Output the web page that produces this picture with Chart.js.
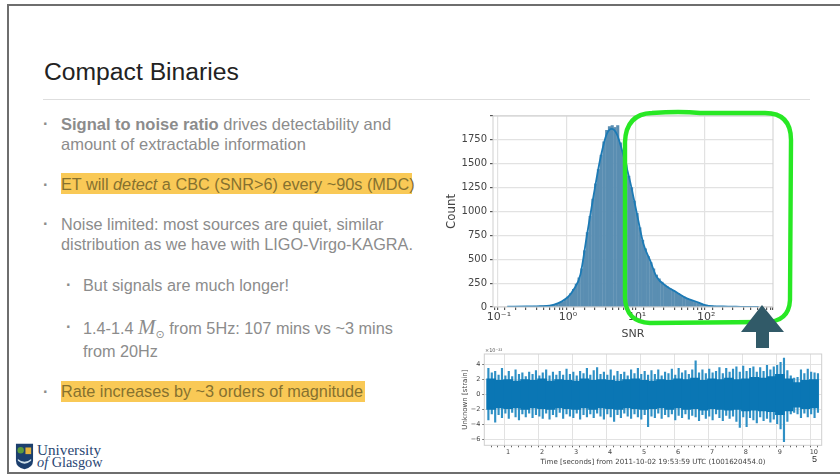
<!DOCTYPE html>
<html>
<head>
<meta charset="utf-8">
<script src="https://cdn.jsdelivr.net/npm/chart.js@4"></script>
<style>
html, body { margin: 0; padding: 0; background: #fff; }
#slide { position: relative; width: 840px; height: 474px; overflow: hidden; font-family: "Liberation Sans", sans-serif; color: #8c8c8c; }
#slide div { position: absolute; white-space: nowrap; }
.line { font-size: 16.25px; line-height: 20px; }
.dot { font-weight: bold; }
.hl { background: #f9c956; }
.dark { color: #86712f; }
canvas { position: absolute; filter: blur(0.5px); }
</style>
</head>
<body>
<div id="slide">
  <div style="left:8px;top:4px;width:832px;height:2px;background:#6e6e6e"></div>
  <div style="left:7px;top:4px;width:2px;height:470px;background:#6e6e6e"></div>
  <div style="left:7px;top:472px;width:833px;height:2px;background:#6e6e6e"></div>

  <div style="left:44px;top:57px;font-size:24.7px;line-height:30px;color:#222">Compact Binaries</div>
  <div style="left:43px;top:99px;width:767px;height:1px;background:#dedede"></div>

  <div class="line dot" style="left:43px;top:113px">·</div>
  <div class="line" style="left:61px;top:114px;font-size:16.5px"><b>Signal to noise ratio</b> drives detectability and</div>
  <div class="line" style="left:61px;top:134px;font-size:16.5px">amount of extractable information</div>

  <div class="hl" style="left:61px;top:173px;width:351px;height:21px"></div>
  <div class="line dot" style="left:43px;top:174px">·</div>
  <div class="line dark" style="left:61px;top:174px">ET will <i>detect</i> a CBC (SNR&gt;6) every ~90s (MDC)</div>

  <div class="line dot" style="left:43px;top:213px">·</div>
  <div class="line" style="left:61px;top:214px">Noise limited: most sources are quiet, similar</div>
  <div class="line" style="left:61px;top:234px">distribution as we have with LIGO-Virgo-KAGRA.</div>

  <div class="line dot" style="left:66px;top:274px">·</div>
  <div class="line" style="left:83px;top:275px">But signals are much longer!</div>

  <div class="line dot" style="left:66px;top:316px">·</div>
  <div class="line" style="left:83px;top:317px">1.4-1.4 <span style="font-family:'Liberation Serif';font-style:italic;font-size:21px">M</span><sub style="font-family:'DejaVu Sans';font-size:11px;line-height:0">⊙</sub> from 5Hz: 107 mins vs ~3 mins</div>
  <div class="line" style="left:83px;top:341px">from 20Hz</div>

  <div class="hl" style="left:61px;top:381px;width:304px;height:21px"></div>
  <div class="line dot" style="left:43px;top:381px">·</div>
  <div class="line dark" style="left:61px;top:381px">Rate increases by ~3 orders of magnitude</div>

  <svg style="position:absolute;left:15px;top:442px" width="19" height="29" viewBox="0 0 20 29">
    <path d="M1 1 H19 V19 Q19 26 10 28 Q1 26 1 19 Z" fill="#1c3f6e"/>
    <circle cx="6" cy="8" r="3.4" fill="#5b9a3c"/>
    <rect x="11" y="5" width="6" height="7" fill="#e3b23c"/>
    <path d="M3 17 Q10 23 17 17 V19 Q10 25 3 19 Z" fill="#cfe0ea"/>
  </svg>
  <div style="left:37px;top:442px;font-family:'Liberation Serif',serif;font-size:15.2px;line-height:15px;color:#2a4673">University</div>
  <div style="left:37px;top:454px;font-family:'Liberation Serif',serif;font-size:14.3px;line-height:16px;color:#2a4673"><i>of</i> Glasgow</div>

  <canvas id="snrChart" width="345" height="236" style="left:440px;top:105px"></canvas>
  <canvas id="strainChart" width="400" height="118" style="left:440px;top:348px"></canvas>

  <div style="left:485px;top:347px;font-family:'DejaVu Sans';font-size:5px;line-height:7px;color:#555">×10⁻²²</div>
  <div style="left:812px;top:454px;font-size:9px;line-height:10px;color:#333">5</div>

  <svg style="position:absolute;left:0;top:0;pointer-events:none" width="840" height="474">
    <path d="M652 113 Q680 111 700 113 L765 113 Q791 113 791 140 L790 300 Q789 322 765 322 L650 323 Q626 322 625 298 L625 142 Q626 114 652 113 Z" fill="none" stroke="#28e824" stroke-width="4.4"/>
    <path d="M762 305 L784 332 L769 332 L769 348 L756 348 L756 332 L741 332 Z" fill="#315a68"/>
  </svg>
</div>

<script>
// SNR histogram, log10 of bin position and counts
const binExps = [-0.56,-0.52,-0.48,-0.44,-0.40,-0.36,-0.32,-0.28,-0.24,-0.20,-0.16,-0.12,-0.08,-0.04,0.00,0.04,0.08,0.12,0.16,0.20,0.24,0.28,0.32,0.36,0.40,0.44,0.48,0.52,0.56,0.60,0.64,0.68,0.72,0.76,0.80,0.84,0.88,0.92,0.96,1.00,1.04,1.08,1.12,1.16,1.20,1.24,1.28,1.32,1.36,1.40,1.44,1.48,1.52,1.56,1.60,1.64,1.68,1.72,1.76,1.80,1.84,1.88,1.92,1.96,2.00,2.04,2.08,2.12,2.16,2.20,2.24,2.28,2.32,2.36,2.40,2.44];
const binCounts = [6,7,8,7,9,10,12,14,18,24,30,40,55,78,105,140,185,240,305,400,590,780,950,1130,1290,1440,1590,1730,1850,1890,1900,1880,1900,1720,1610,1490,1370,1250,1110,980,830,700,610,530,465,400,335,295,260,230,210,190,170,155,140,120,105,90,80,68,58,48,38,28,20,15,12,9,7,6,5,4,4,3,3,2];

// KDE curve over the histogram
const kdeExps = [-0.88,-0.6,-0.4,-0.2,0.0,0.08,0.18,0.27,0.37,0.47,0.56,0.635,0.707,0.80,0.90,0.995,1.09,1.19,1.28,1.43,1.57,1.72,1.86,2.0,2.24,2.5,2.76];
const kdeCounts = [3,5,8,25,105,180,340,735,1165,1560,1810,1865,1810,1595,1310,985,665,485,320,215,155,90,55,18,5,2,1];

const snrTicks = [0,250,500,750,1000,1250,1500,1750];

// strain time series: spike tops and bottoms per slice of time
const strainTimes = [0.42,0.52,0.62,0.72,0.82,0.92,1.02,1.12,1.22,1.32,1.42,1.52,1.62,1.72,1.82,1.92,2.02,2.12,2.22,2.32,2.42,2.52,2.62,2.72,2.82,2.92,3.02,3.12,3.22,3.32,3.42,3.52,3.62,3.72,3.82,3.92,4.02,4.12,4.22,4.32,4.42,4.52,4.62,4.72,4.82,4.92,5.02,5.12,5.22,5.32,5.42,5.52,5.62,5.72,5.82,5.92,6.02,6.12,6.22,6.32,6.42,6.52,6.62,6.72,6.82,6.92,7.02,7.12,7.22,7.32,7.42,7.52,7.62,7.72,7.82,7.92,8.02,8.12,8.22,8.32,8.42,8.52,8.62,8.72,8.82,8.92,9.02,9.12,9.22,9.32,9.42,9.52,9.62,9.72,9.82,9.92,10.02,10.12];
const strainHigh = [3.5,2.9,3.1,2.6,3.5,2.5,3.1,2.4,3.3,2.7,2.9,2.4,3.0,2.7,3.2,2.5,2.9,3.3,2.5,3.0,2.6,3.1,2.6,3.4,2.7,3.0,2.5,3.1,2.8,3.5,2.6,3.2,3.6,2.7,3.0,2.6,3.3,2.5,3.1,2.7,3.0,2.5,3.3,2.8,3.5,2.7,3.1,2.6,3.2,2.7,3.3,2.5,3.0,2.8,3.4,2.6,3.5,2.9,3.2,2.7,3.3,4.5,2.9,3.3,2.8,3.4,2.9,3.1,3.6,2.8,3.5,3.0,3.4,3.7,3.0,3.8,3.1,3.5,3.7,3.0,3.6,3.1,3.9,3.3,3.7,3.9,4.3,4.9,3.2,2.5,2.2,2.3,3.3,2.8,3.4,3.0,2.9,2.8];
const strainLow = [-3.4,-2.6,-3.7,-2.7,-3.1,-2.5,-3.2,-2.4,-3.0,-3.4,-2.6,-3.0,-2.5,-3.1,-2.7,-2.9,-3.2,-2.5,-3.3,-2.7,-3.0,-2.4,-3.2,-2.6,-2.9,-3.1,-2.5,-3.3,-2.7,-3.0,-2.6,-3.1,-2.5,-2.9,-3.3,-2.6,-3.0,-3.6,-2.7,-3.1,-2.5,-2.9,-3.2,-2.6,-3.0,-3.3,-2.7,-4.3,-2.9,-3.1,-2.5,-3.2,-2.7,-3.0,-2.6,-3.4,-2.8,-3.1,-2.6,-3.3,-2.8,-3.0,-3.5,-2.7,-3.2,-2.9,-3.4,-2.6,-3.1,-3.5,-2.8,-3.2,-2.9,-3.6,-4.4,-3.0,-4.3,-3.1,-3.4,-3.8,-3.0,-3.5,-3.2,-3.7,-3.3,-3.9,-4.6,-6.3,-3.6,-2.6,-2.4,-2.6,-3.1,-2.5,-3.0,-2.6,-3.1,-2.4];

// solid middle of the band
const coreTimes = [0.5,0.75,1.0,1.25,1.5,1.75,2.0,2.25,2.5,2.75,3.0,3.25,3.5,3.75,4.0,4.25,4.5,4.75,5.0,5.25,5.5,5.75,6.0,6.25,6.5,6.75,7.0,7.25,7.5,7.75,8.0,8.25,8.5,8.75,9.0,9.25,9.5,9.75,10.0];
const coreHigh = [2.1,1.9,2.0,1.8,2.0,1.9,2.1,1.8,2.0,1.9,1.8,2.1,1.9,2.0,1.9,1.8,2.0,2.1,1.9,1.8,2.0,1.9,2.1,2.0,2.2,1.9,2.1,2.0,2.2,2.0,2.1,2.3,2.2,2.4,2.7,2.1,1.6,1.9,2.0];
const coreLow = [-2.0,-1.8,-1.9,-1.8,-2.0,-1.8,-1.9,-2.0,-1.8,-1.9,-2.0,-1.8,-2.0,-1.8,-1.9,-2.0,-1.8,-1.9,-2.0,-1.9,-1.8,-2.0,-1.8,-2.0,-1.9,-2.1,-1.9,-2.0,-2.1,-2.0,-2.2,-2.1,-2.2,-2.3,-2.7,-2.2,-1.7,-1.9,-1.8];

const axisText = '#444';
const gridColor = '#e2e2e2';

// the matplotlib frame goes round all four sides
const framePlugin = {
    id: 'frame',
    afterDatasetsDraw(chart) {
        const a = chart.chartArea;
        const c = chart.ctx;
        c.save();
        c.strokeStyle = '#cfcfcf';
        c.lineWidth = 1;
        c.strokeRect(a.left, a.top, a.width, a.height);
        c.restore();
    }
};

function isDecade(v) {
    const e = Math.log10(v);
    return Math.abs(e - Math.round(e)) < 1e-6;
}
const superDigits = { '-1': '10⁻¹', '0': '10⁰', '1': '10¹', '2': '10²' };

new Chart(document.getElementById('snrChart'), {
    type: 'bar',
    data: {
        datasets: [{
            type: 'line',
            data: kdeExps.map((e, i) => ({ x: 10 ** e, y: kdeCounts[i] })),
            borderColor: '#1c7ab5',
            borderWidth: 1.8,
            pointRadius: 0,
            cubicInterpolationMode: 'monotone',
            order: 0
        }, {
            data: binExps.map((e, i) => ({ x: 10 ** e, y: binCounts[i] })),
            backgroundColor: '#5a8eb2',
            barThickness: 2.45,
            order: 1
        }]
    },
    options: {
        responsive: false,
        animation: false,
        layout: { padding: { top: 11, right: 12, left: 0, bottom: 0 } },
        plugins: { legend: { display: false }, tooltip: { enabled: false } },
        scales: {
            x: {
                type: 'logarithmic',
                min: 0.082,
                max: 929,
                afterFit: s => { s.height = 34; },
                grid: {
                    color: c => (c.tick && isDecade(c.tick.value)) ? gridColor : 'transparent',
                    tickColor: '#555',
                    tickLength: 3,
                    lineWidth: 1.2
                },
                border: { display: false },
                ticks: {
                    color: axisText,
                    font: { family: 'DejaVu Sans', size: 11 },
                    autoSkip: false,
                    maxRotation: 0,
                    padding: 1,
                    callback: v => isDecade(v) ? superDigits[String(Math.round(Math.log10(v)))] : ''
                },
                title: { display: true, text: 'SNR', color: axisText, font: { family: 'DejaVu Sans', size: 11 }, padding: 0 }
            },
            y: {
                min: 0,
                max: 2000,
                afterFit: s => { s.width = 53; },
                grid: { color: gridColor, tickColor: '#555', tickLength: 3, lineWidth: 1.2 },
                border: { display: false },
                ticks: {
                    stepSize: 250,
                    color: axisText,
                    font: { family: 'DejaVu Sans', size: 10 },
                    padding: 3,
                    callback: v => snrTicks.includes(v) ? String(v) : ''
                },
                title: { display: true, text: 'Count', color: axisText, font: { family: 'DejaVu Sans', size: 11.8 }, padding: { top: 5, bottom: 0 } }
            }
        }
    },
    plugins: [framePlugin]
});

new Chart(document.getElementById('strainChart'), {
    type: 'bar',
    data: {
        datasets: [{
            data: strainTimes.map((t, i) => ({ x: t, y: [strainLow[i], strainHigh[i]] })),
            backgroundColor: '#2f90c5',
            barThickness: 1.5,
            grouped: false,
            order: 1
        }, {
            data: coreTimes.map((t, i) => ({ x: t, y: [coreLow[i], coreHigh[i]] })),
            backgroundColor: '#0a76b4',
            barThickness: 9,
            grouped: false,
            order: 0
        }]
    },
    options: {
        responsive: false,
        animation: false,
        layout: { padding: { top: 6, right: 18.3, left: 0, bottom: 0 } },
        plugins: { legend: { display: false }, tooltip: { enabled: false } },
        scales: {
            x: {
                type: 'linear',
                min: 0.403,
                max: 10.127,
                afterFit: s => { s.height = 20.7; },
                grid: {
                    color: c => (c.tick && Math.abs(c.tick.value - Math.round(c.tick.value)) < 1e-6) ? gridColor : 'transparent',
                    tickColor: '#666',
                    tickLength: 2,
                    lineWidth: 1
                },
                border: { display: false },
                ticks: {
                    stepSize: 0.2,
                    includeBounds: false,
                    autoSkip: false,
                    maxRotation: 0,
                    color: axisText,
                    font: { family: 'DejaVu Sans', size: 6.5 },
                    padding: 1,
                    callback: v => Math.abs(v - Math.round(v)) < 1e-6 ? String(Math.round(v)) : ''
                },
                title: {
                    display: true,
                    text: 'Time [seconds] from 2011-10-02 19:53:59 UTC (1001620454.0)',
                    color: axisText,
                    font: { family: 'DejaVu Sans', size: 7.05 },
                    padding: 0
                }
            },
            y: {
                min: -6.8,
                max: 5.43,
                afterFit: s => { s.width = 44.3; },
                grid: { color: gridColor, tickColor: '#666', tickLength: 2, lineWidth: 1 },
                border: { display: false },
                ticks: {
                    stepSize: 2,
                    includeBounds: false,
                    color: axisText,
                    font: { family: 'DejaVu Sans', size: 6.5 },
                    padding: 2,
                    callback: v => String(v).replace('-', '\u2212')
                },
                title: { display: true, text: 'Unknown [strain]', color: axisText, font: { family: 'DejaVu Sans', size: 7 }, padding: { top: 21, bottom: 0 } }
            }
        }
    },
    plugins: [framePlugin]
});
</script>
</body>
</html>
